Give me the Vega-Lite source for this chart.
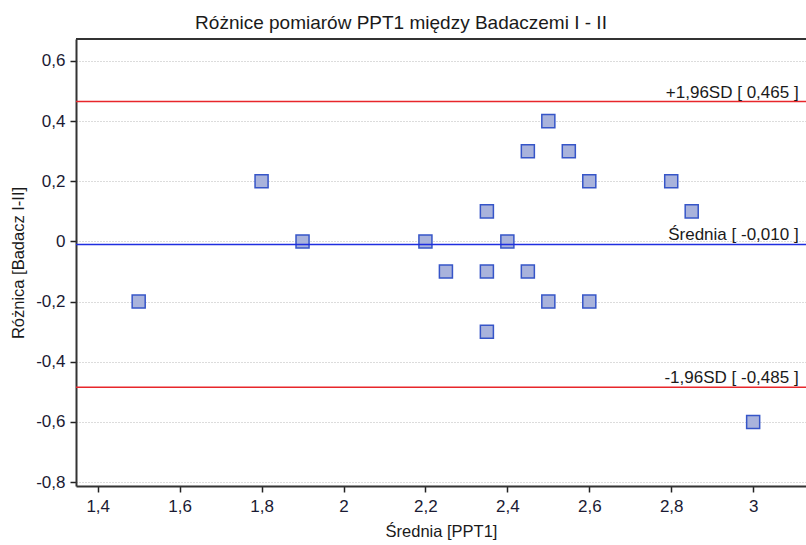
{
  "$schema": "https://vega.github.io/schema/vega-lite/v6.json",
  "width": 730,
  "height": 447,
  "autosize": {"type": "none"},
  "padding": {"left": 76, "top": 39, "right": 0, "bottom": 59},
  "config": {
    "view": {"stroke": null},
    "font": "Liberation Sans",
    "axis": {
      "labelFont": "Liberation Sans",
      "titleFont": "Liberation Sans",
      "labelFontSize": 17,
      "titleFontSize": 16.5,
      "labelColor": "#1a1a33",
      "titleColor": "#1a1a1a",
      "titleFontWeight": "normal",
      "domainColor": "#333333",
      "domainWidth": 2,
      "tickColor": "#222222",
      "tickWidth": 1.5,
      "tickSize": 6
    }
  },
  "title": {
    "text": "Różnice pomiarów PPT1 między Badaczemi I - II",
    "font": "Liberation Sans",
    "fontSize": 19,
    "fontWeight": "normal",
    "color": "#1a1a1a",
    "anchor": "middle",
    "dx": -40,
    "offset": 5
  },
  "datasets": {
    "points": [
      {"srednia": 1.5, "roznica": -0.2},
      {"srednia": 1.8, "roznica": 0.2},
      {"srednia": 1.9, "roznica": 0.0},
      {"srednia": 2.2, "roznica": 0.0},
      {"srednia": 2.25, "roznica": -0.1},
      {"srednia": 2.35, "roznica": 0.1},
      {"srednia": 2.35, "roznica": -0.1},
      {"srednia": 2.35, "roznica": -0.3},
      {"srednia": 2.4, "roznica": 0.0},
      {"srednia": 2.45, "roznica": 0.3},
      {"srednia": 2.45, "roznica": -0.1},
      {"srednia": 2.5, "roznica": 0.4},
      {"srednia": 2.5, "roznica": -0.2},
      {"srednia": 2.55, "roznica": 0.3},
      {"srednia": 2.6, "roznica": 0.2},
      {"srednia": 2.6, "roznica": -0.2},
      {"srednia": 2.8, "roznica": 0.2},
      {"srednia": 2.85, "roznica": 0.1},
      {"srednia": 3.0, "roznica": -0.6}
    ],
    "lines": [
      {"y": 0.465, "label": "+1,96SD [ 0,465 ]", "color": "#e8262b"},
      {"y": -0.01, "label": "Średnia [ -0,010 ]", "color": "#1f2ee0"},
      {"y": -0.485, "label": "-1,96SD [ -0,485 ]", "color": "#e8262b"}
    ]
  },
  "layer": [
    {
      "data": {"name": "points"},
      "mark": {"type": "square", "size": 170, "fill": "#a9b3dc", "stroke": "#3655c8", "strokeWidth": 1.5, "opacity": 1},
      "encoding": {
        "x": {
          "field": "srednia", "type": "quantitative",
          "scale": {"domain": [1.347, 3.129], "nice": false, "zero": false},
          "axis": {
            "title": "Średnia [PPT1]",
            "values": [1.4, 1.6, 1.8, 2, 2.2, 2.4, 2.6, 2.8, 3],
            "labelExpr": "replace(toString(datum.value), '.', ',')",
            "grid": false,
            "labelPadding": 6,
            "titlePadding": 9
          }
        },
        "y": {
          "field": "roznica", "type": "quantitative",
          "scale": {"domain": [-0.813, 0.673], "nice": false, "zero": false},
          "axis": {
            "title": "Różnica [Badacz I-II]",
            "values": [-0.8, -0.6, -0.4, -0.2, 0, 0.2, 0.4, 0.6],
            "labelExpr": "replace(toString(datum.value), '.', ',')",
            "grid": true,
            "gridColor": "#b8b8b8",
            "gridDash": [1, 2],
            "gridWidth": 1,
            "labelPadding": 5,
            "titlePadding": 9
          }
        }
      }
    },
    {
      "data": {"name": "lines"},
      "mark": {"type": "rule", "strokeWidth": 1.5},
      "encoding": {
        "y": {"field": "y", "type": "quantitative"},
        "color": {"field": "color", "type": "nominal", "scale": null}
      }
    },
    {
      "data": {"name": "lines"},
      "mark": {"type": "text", "align": "right", "baseline": "bottom", "dy": 0, "fontSize": 17, "font": "Liberation Sans", "color": "#1a1a1a"},
      "encoding": {
        "x": {"datum": 3.111, "type": "quantitative"},
        "y": {"field": "y", "type": "quantitative"},
        "text": {"field": "label"}
      }
    },
    {
      "data": {"values": [{"top": 0.673}]},
      "mark": {"type": "rule", "color": "#333333", "strokeWidth": 2},
      "encoding": {
        "y": {"field": "top", "type": "quantitative"}
      }
    }
  ]
}
